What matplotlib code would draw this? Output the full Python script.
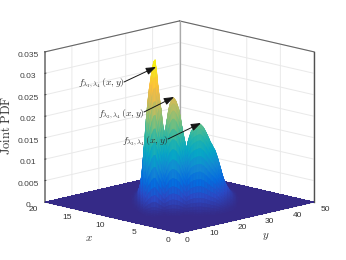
import numpy as np
import matplotlib
matplotlib.use("Agg")
import matplotlib.pyplot as plt
from matplotlib.colors import LinearSegmentedColormap
from mpl_toolkits.mplot3d import proj3d

plt.rcParams['font.family'] = ['Liberation Sans', 'DejaVu Sans']
plt.rcParams['mathtext.fontset'] = 'cm'

W, H = 346, 260
x_ticks = [0, 5, 10, 15, 20]
y_ticks = [0, 10, 20, 30, 40, 50]
z_ticks = [0, 0.005, 0.01, 0.015, 0.02, 0.025, 0.03, 0.035]
z_tick_labels = ['0', '0.005', '0.01', '0.015', '0.02', '0.025', '0.03', '0.035']

# height of the ridge (x 1e-3), read across the view direction, from left to right
ridge = np.array([0.0, 0.1, 0.3, 0.5, 0.8, 1.3, 2.2, 3.6, 6.0, 10.0,
                  14.5, 19.0, 23.0, 26.0, 28.5, 30.8, 32.4, 32.8, 30.5, 26.8,
                  24.0, 21.5, 18.5, 15.5, 17.0, 19.0, 21.3, 22.6, 23.5, 24.0,
                  23.8, 23.2, 22.3, 21.2, 19.5, 17.3, 15.5, 13.8, 12.2, 13.8,
                  15.0, 16.0, 16.6, 17.0, 17.3, 17.5, 17.7, 17.8, 17.6, 17.2,
                  16.7, 16.0, 15.3, 14.5, 13.7, 13.1, 12.4, 11.8, 10.9, 9.8,
                  8.6, 7.3, 6.0, 4.9, 4.0, 3.3, 2.6, 2.1, 1.6, 1.2,
                  0.8, 0.5, 0.2, 0.1, 0.0]) * 1e-3
# share of the ridge height, read along the view direction, from front to back
share = np.array([0.0, 0.003, 0.006, 0.01, 0.017, 0.028, 0.045, 0.075, 0.115, 0.165,
                  0.225, 0.295, 0.375, 0.46, 0.55, 0.64, 0.73, 0.82, 0.89, 0.95,
                  1.0, 0.98, 0.93, 0.86, 0.77, 0.67, 0.57, 0.47, 0.38, 0.30,
                  0.23, 0.17, 0.12, 0.08, 0.05, 0.03, 0.01, 0.0])

parula_rows = [(0.2081, 0.1663, 0.5292), (0.1707, 0.2919, 0.7792), (0.0165, 0.4266, 0.8786),
               (0.0749, 0.5375, 0.8263), (0.0228, 0.6535, 0.7768), (0.1453, 0.7098, 0.6646),
               (0.3953, 0.7459, 0.5244), (0.6473, 0.7456, 0.4188), (0.8507, 0.7299, 0.3360),
               (0.9938, 0.7455, 0.2403), (0.9626, 0.8705, 0.1309), (0.9763, 0.9831, 0.0538)]
parula = LinearSegmentedColormap.from_list('parula', parula_rows, N=256)

fig = plt.figure(figsize=(W / 100, H / 100), dpi=100)

def make_axes(side, cx, cy):
    return [(cx - side / 2) / W, (H - cy - side / 2) / H, side / W, side / H]

ax = fig.add_axes(make_axes(300, 173, 130), projection='3d', computed_zorder=False)
ax.set_proj_type('ortho')
ax.view_init(elev=13.3, azim=-45)
ax.set_box_aspect((1, 1, 0.8115))
ax.set_xlim(20, 0)
ax.set_ylim(0, 50)
ax.set_zlim(0, 0.035)
ax.patch.set_alpha(0)

grey = '#e9e9e9'
for axis in (ax.xaxis, ax.yaxis, ax.zaxis):
    axis.set_pane_color((1, 1, 1, 1))
    axis.pane.set_edgecolor('none')
    axis._axinfo['grid'].update(color=grey, linewidth=0.7)
    axis._axinfo['tick'].update(inward_factor=0.0, outward_factor=0.08, linewidth={True: 0.7, False: 0.5})
    axis.line.set_color('#777777')
    axis.line.set_linewidth(0.6)

ax.set_xticks(x_ticks)
ax.set_yticks(y_ticks)
ax.set_zticks(z_ticks)
ax.set_xticklabels([])
ax.set_yticklabels([])
ax.set_zticklabels(z_tick_labels)
ax.tick_params(axis='z', labelsize=6, colors='#404040', pad=-1)
ax.zaxis.set_ticks_position('lower')
ax.zaxis.line.set_color('#888888')
ax.zaxis.line.set_linewidth(1.4)

# floor
fx, fy = np.meshgrid([0, 20], [0, 50])
ax.plot_surface(fx, fy, np.zeros_like(fx, dtype=float), color=parula(0.0), shade=False,
                linewidth=0, antialiased=False, zorder=2)

# hump
across = np.linspace(-0.3704, 0.4519, len(ridge))
along = np.linspace(0.45, 1.56, len(share))
S, D = np.meshgrid(along, across, indexing='ij')
Xs = 20 * (S - D) / 2
Ys = 50 * (S + D) / 2
Zs = np.outer(share, ridge)
surf = ax.plot_surface(Xs, Ys, Zs, cmap=parula, vmin=0, vmax=ridge.max(), rstride=1, cstride=1,
                       shade=False, linewidth=0.3, antialiased=True, zorder=3)
surf.set_edgecolor('face')

# box edges at the back
edge = dict(clip_on=False, zorder=1.5)
ax.plot([20, 20], [0, 50], [0.035, 0.035], color='#666666', lw=0.8, **edge)
ax.plot([20, 0], [50, 50], [0.035, 0.035], color='#666666', lw=0.8, **edge)
ax.plot([20, 20], [50, 50], [0, 0.035], color='#aaaaaa', lw=0.9, **edge)
ax.plot([0, 0], [50, 50], [0, 0.035], color='#505050', lw=1.0, **edge)

# fit the box to its place in the picture
fig.canvas.draw()
def pix(px, py, pz):
    a, b, _ = proj3d.proj_transform(px, py, pz, ax.get_proj())
    return ax.transData.transform((a, b))
left = pix(20, 0, 0)
right = pix(0, 50, 0)
scale = 269.0 / (right[0] - left[0])
side = 300 * scale
ax.set_position(make_axes(side, 173, 130))
fig.canvas.draw()
left = pix(20, 0, 0)
ax.set_position(make_axes(side, 173 + (45 - left[0]), 130 + ((H - left[1]) - 200)))
fig.canvas.draw()

# overlay for the labels and arrows, in picture pixels
ov = fig.add_axes([0, 0, 1, 1])
ov.set_xlim(0, W)
ov.set_ylim(H, 0)
ov.axis('off')
ov.patch.set_alpha(0)
txt = dict(color='#303030', ha='center', va='center')
for v in x_ticks:
    p = pix(v, 0, 0)
    ov.text(p[0] - 12, H - p[1] + 7.5, str(v), fontsize=6, **txt)
for v in y_ticks:
    p = pix(0, v, 0)
    ov.text(p[0] + 7 + v * 0.08, H - p[1] + 7, str(v), fontsize=6, **txt)
ov.text(7, 125, r'$\mathrm{Joint\ PDF}$', fontsize=9, rotation=90, **txt)
ov.text(89, 238, r'$x$', fontsize=8, **txt)
ov.text(266, 237, r'$y$', fontsize=8, **txt)

labels = [r'$f_{\lambda_1,\lambda_4}\,(x,y)$', r'$f_{\lambda_2,\lambda_4}\,(x,y)$', r'$f_{\lambda_3,\lambda_4}\,(x,y)$']
label_xy = [(101, 83), (121, 114), (145, 141)]
tails = [(124, 82), (144, 112), (168, 139)]
tips = [(156, 67), (174, 97), (201, 123)]
for s, c, t, p in zip(labels, label_xy, tails, tips):
    ov.text(c[0], c[1], s, fontsize=7, **txt)
    ov.annotate('', xy=p, xytext=t,
                arrowprops=dict(arrowstyle='-|>,head_length=0.6,head_width=0.22', color='#151515',
                                lw=0.7, shrinkA=0, shrinkB=0))

fig.savefig('out.png', dpi=100)
